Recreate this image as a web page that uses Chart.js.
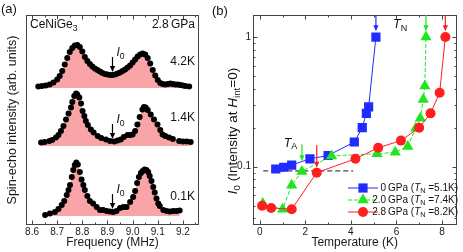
<!DOCTYPE html>
<html>
<head>
<meta charset="utf-8">
<script src="https://cdn.jsdelivr.net/npm/chart.js@4.4.1/dist/chart.umd.min.js"></script>
<style>
  html, body { margin: 0; padding: 0; background: #fff; }
  #wrap { position: relative; width: 463px; height: 252px; }
  #wrap canvas { position: absolute; left: 0; top: 0; }
</style>
</head>
<body>
<div id="wrap">
  <canvas id="chart-a" width="463" height="252"></canvas>
  <canvas id="chart-b" width="463" height="252"></canvas>
</div>
<script>
// ---- panel (a): spin-echo spectra of CeNiGe3 at 2.8 GPa ----
const freqTicks = [8.6, 8.7, 8.8, 8.9, 9.0, 9.1, 9.2];
const specLabels = ['4.2K', '1.4K', '0.1K'];

const freq4K2 = [8.625, 8.64, 8.655, 8.67, 8.685, 8.70, 8.71, 8.72, 8.73, 8.74, 8.75, 8.76, 8.77, 8.78, 8.79,
  8.80, 8.81, 8.82, 8.83, 8.84, 8.85, 8.86, 8.87, 8.88, 8.89, 8.90, 8.91, 8.92, 8.93, 8.94, 8.95, 8.96, 8.97,
  8.98, 8.99, 9.00, 9.01, 9.02, 9.03, 9.04, 9.05, 9.06, 9.07, 9.08, 9.09, 9.10, 9.11, 9.12, 9.13, 9.14, 9.15,
  9.16, 9.17, 9.18, 9.19, 9.20, 9.21, 9.225];
const int4K2 = [0.03, 0.04, 0.05, 0.07, 0.11, 0.17, 0.24, 0.34, 0.47, 0.60, 0.72, 0.80, 0.85, 0.86, 0.82,
  0.73, 0.62, 0.54, 0.48, 0.43, 0.39, 0.36, 0.33, 0.30, 0.28, 0.27, 0.26, 0.26, 0.27, 0.29, 0.31, 0.34, 0.37,
  0.41, 0.45, 0.51, 0.57, 0.63, 0.67, 0.69, 0.67, 0.60, 0.49, 0.36, 0.25, 0.16, 0.10, 0.08, 0.07, 0.08, 0.09,
  0.08, 0.07, 0.07, 0.06, 0.05, 0.04, 0.03];

const freq1K4 = [8.636, 8.650, 8.669, 8.680, 8.695, 8.705, 8.715, 8.725, 8.735, 8.745, 8.755, 8.760, 8.768,
  8.775, 8.780, 8.788, 8.795, 8.801, 8.808, 8.814, 8.822, 8.834, 8.845, 8.861, 8.875, 8.894, 8.910, 8.927,
  8.940, 8.953, 8.965, 8.980, 8.990, 9.000, 9.010, 9.019, 9.028, 9.039, 9.045, 9.052, 9.060, 9.072, 9.085,
  9.099, 9.110, 9.119, 9.130, 9.145, 9.160, 9.185, 9.200, 9.215, 9.231];
const int1K4 = [0.07, 0.08, 0.10, 0.12, 0.17, 0.22, 0.30, 0.40, 0.53, 0.65, 0.77, 0.88, 1.00,
  1.05, 1.03, 0.97, 0.85, 0.70, 0.60, 0.50, 0.42, 0.33, 0.27, 0.20, 0.16, 0.13, 0.10, 0.09,
  0.11, 0.13, 0.18, 0.22, 0.22, 0.23, 0.30, 0.43, 0.58, 0.73, 0.78, 0.77, 0.72, 0.63, 0.53,
  0.43, 0.32, 0.23, 0.20, 0.17, 0.14, 0.10, 0.09, 0.09, 0.08];

const freq0K1 = [8.652, 8.671, 8.691, 8.705, 8.718, 8.728, 8.738, 8.745, 8.751, 8.758, 8.764, 8.770, 8.776,
  8.782, 8.790, 8.797, 8.804, 8.810, 8.820, 8.830, 8.843, 8.857, 8.870, 8.883, 8.897, 8.910, 8.923, 8.936,
  8.950, 8.963, 8.976, 8.990, 9.002, 9.010, 9.018, 9.025, 9.033, 9.040, 9.048, 9.055, 9.062, 9.068, 9.075,
  9.082, 9.088, 9.095, 9.102, 9.108, 9.122, 9.135, 9.148, 9.161, 9.174, 9.187];
const int0K1 = [0.02, 0.05, 0.08, 0.14, 0.22, 0.30, 0.42, 0.52, 0.62, 0.78, 0.92, 1.02, 1.07,
  1.03, 0.88, 0.73, 0.62, 0.52, 0.40, 0.30, 0.25, 0.18, 0.12, 0.12, 0.10, 0.09, 0.08, 0.10,
  0.16, 0.18, 0.18, 0.28, 0.38, 0.50, 0.66, 0.78, 0.86, 0.90, 0.93, 0.92, 0.88, 0.80, 0.70,
  0.58, 0.47, 0.35, 0.25, 0.20, 0.12, 0.10, 0.09, 0.10, 0.10, 0.11];

// vertical offset of each trace in the stack
const specBase = [2.74, 1.58, 0.18];

// ---- panel (b): I0 vs temperature ----
const tempTicks = [0, 2, 4, 6, 8];
const i0Ticks = [0.1, 1];
const pressures = ['0', '2.0', '2.8'];
const tnValues = [5.1, 7.4, 8.2];

const temp00 = [0.7, 1.05, 1.4, 2.2, 3.0, 4.15, 4.5, 4.68, 4.78, 5.1];
const int00 = [0.096, 0.099, 0.103, 0.115, 0.122, 0.155, 0.2, 0.258, 0.289, 1.0];
const temp20 = [0.13, 1.0, 1.4, 1.85, 3.15, 5.15, 5.95, 6.5, 6.85, 7.05, 7.18, 7.25, 7.3];
const int20 = [0.052, 0.047, 0.072, 0.092, 0.121, 0.126, 0.129, 0.143, 0.198, 0.236, 0.33, 0.42, 1.0];
const temp28 = [0.1, 0.5, 1.4, 2.5, 4.2, 5.2, 6.2, 7.0, 7.5, 7.9, 8.15];
const int28 = [0.05, 0.048, 0.047, 0.09, 0.115, 0.14, 0.159, 0.2, 0.258, 0.372, 1.0];

const dashT = [0.15, 4.1];
const dashI = [0.093, 0.093];

const FONT = "'Liberation Sans', Arial, sans-serif";
const BLUE = '#1f2bff', GREEN = '#1ee61e', RED = '#ff1f1f', PINK = '#f9a4a6';

Chart.defaults.font.family = FONT;
Chart.defaults.color = '#1a1a1a';

function drawRich(ctx, parts, x, y, size, align) {
  ctx.save();
  ctx.fillStyle = '#111';
  ctx.textAlign = 'left';
  ctx.textBaseline = 'middle';
  const fontOf = p => (p.it ? 'italic ' : '') + (p.sub ? size * 0.72 : size) + 'px ' + FONT;
  let w = 0;
  parts.forEach(p => { ctx.font = fontOf(p); w += ctx.measureText(p.t).width; });
  let cx = align === 'right' ? x - w : align === 'center' ? x - w / 2 : x;
  parts.forEach(p => {
    ctx.font = fontOf(p);
    ctx.fillText(p.t, cx, p.sub ? y + size * 0.3 : y);
    cx += ctx.measureText(p.t).width;
  });
  ctx.restore();
}

function drawArrow(ctx, x, y0, y1, color) {
  const head = 6, half = 2.6;
  ctx.save();
  ctx.strokeStyle = color;
  ctx.fillStyle = color;
  ctx.lineWidth = 1.2;
  ctx.beginPath();
  ctx.moveTo(x, y0);
  ctx.lineTo(x, y1 - head + 1);
  ctx.stroke();
  ctx.beginPath();
  ctx.moveTo(x - half, y1 - head);
  ctx.lineTo(x + half, y1 - head);
  ctx.lineTo(x, y1);
  ctx.closePath();
  ctx.fill();
  ctx.restore();
}

function drawMarker(ctx, style, r, x, y, color) {
  ctx.save();
  ctx.fillStyle = color;
  ctx.beginPath();
  if (style === 'rect') {
    const s = r * Math.SQRT1_2;
    ctx.rect(x - s, y - s, 2 * s, 2 * s);
  } else if (style === 'triangle') {
    ctx.moveTo(x, y - r);
    ctx.lineTo(x + r * 0.866, y + r / 2);
    ctx.lineTo(x - r * 0.866, y + r / 2);
    ctx.closePath();
  } else {
    ctx.arc(x, y, r, 0, Math.PI * 2);
  }
  ctx.fill();
  ctx.restore();
}

// box round the plot with inward ticks on all four sides
const framePlugin = {
  id: 'frame',
  afterDatasetsDraw(chart, args, opts) {
    const { ctx, chartArea: a, scales: { x, y } } = chart;
    const L = Math.round(a.left) + 0.5, R = Math.round(a.right) - 0.5;
    const T = Math.round(a.top) + 0.5, B = Math.round(a.bottom) - 0.5;
    ctx.save();
    ctx.strokeStyle = '#444';
    ctx.lineWidth = 1;
    ctx.strokeRect(L, T, R - L, B - T);
    ctx.beginPath();
    const xt = (v, len) => {
      const p = Math.round(x.getPixelForValue(v)) + 0.5;
      ctx.moveTo(p, B); ctx.lineTo(p, B - len);
      ctx.moveTo(p, T); ctx.lineTo(p, T + len);
    };
    const yt = (v, len) => {
      const p = Math.round(y.getPixelForValue(v)) + 0.5;
      ctx.moveTo(L, p); ctx.lineTo(L + len, p);
      ctx.moveTo(R, p); ctx.lineTo(R - len, p);
    };
    (opts.xMajor || []).forEach(v => xt(v, 4));
    (opts.xMinor || []).forEach(v => xt(v, 2));
    (opts.yMajor || []).forEach(v => yt(v, 4));
    (opts.yMinor || []).forEach(v => yt(v, 2));
    ctx.stroke();
    ctx.restore();
  }
};

// ---------- chart (a) ----------
const spectra = [
  { f: freq4K2, v: int4K2 },
  { f: freq1K4, v: int1K4 },
  { f: freq0K1, v: int0K1 }
];
const labelRise = [0.52, 0.56, 0.38];
const dipTip = [0.32, 0.14, 0.14];
const dipFreq = 8.92;

const annotA = {
  id: 'annotA',
  afterDraw(chart) {
    const { ctx, scales: { x, y } } = chart;
    drawRich(ctx, [{ t: '(a)' }], 1, 9, 13, 'left');
    drawRich(ctx, [{ t: 'CeNiGe' }, { t: '3', sub: true }], 30, 25, 12, 'left');
    drawRich(ctx, [{ t: '2.8\u2009GPa' }], 195, 25, 12, 'right');
    specLabels.forEach((lab, i) => {
      drawRich(ctx, [{ t: lab }], 195, y.getPixelForValue(specBase[i] + labelRise[i]), 12, 'right');
      const px = x.getPixelForValue(dipFreq);
      const tip = y.getPixelForValue(specBase[i] + dipTip[i]);
      drawArrow(ctx, px, tip - 15, tip, '#000');
      drawRich(ctx, [{ t: 'I', it: true }, { t: '0', sub: true }], px + 4, tip - 19, 12, 'left');
    });
  }
};

const minorFreq = [];
for (let v = 8.65; v < 9.26; v += 0.1) minorFreq.push(v);

new Chart(document.getElementById('chart-a'), {
  type: 'line',
  data: {
    datasets: spectra.map((s, i) => ({
      data: s.f.map((f, k) => ({ x: f, y: specBase[i] + s.v[k] })),
      borderWidth: 0,
      borderColor: 'rgba(0,0,0,0)',
      backgroundColor: PINK,
      fill: { value: specBase[i] },
      pointRadius: 3,
      pointBackgroundColor: '#000',
      pointBorderWidth: 0
    }))
  },
  options: {
    responsive: false,
    animation: false,
    layout: { padding: { top: 15, right: 264, left: 0, bottom: 0 } },
    plugins: {
      legend: { display: false },
      tooltip: { enabled: false },
      frame: { xMajor: freqTicks, xMinor: minorFreq }
    },
    scales: {
      x: {
        type: 'linear', min: 8.576, max: 9.264,
        grid: { display: false, drawTicks: false },
        border: { display: false },
        afterBuildTicks: s => { s.ticks = freqTicks.map(v => ({ value: v })); },
        afterFit: s => { s.height = 27; },
        ticks: { padding: 1, font: { size: 10 }, autoSkip: false, maxRotation: 0, callback: v => v.toFixed(1) },
        title: { display: true, text: 'Frequency (MHz)', font: { size: 12 }, padding: { top: 0, bottom: 2 } }
      },
      y: {
        min: 0, max: 4.2,
        ticks: { display: false },
        grid: { display: false, drawTicks: false },
        border: { display: false },
        afterFit: s => { s.width = 26; },
        title: { display: true, text: 'Spin-echo intensity (arb. units)', font: { size: 12.5 }, padding: { top: 5, bottom: 0 } }
      }
    }
  },
  plugins: [framePlugin, annotA]
});

// ---------- chart (b) ----------
const series = [
  { t: temp00, v: int00, color: BLUE, style: 'rect', r: 6.5, dash: [] },
  { t: temp20, v: int20, color: GREEN, style: 'triangle', r: 6.5, dash: [4, 2] },
  { t: temp28, v: int28, color: RED, style: 'circle', r: 5, dash: [] }
];
const tnArrowT = [5.1, 7.3, 8.15];
const tnArrowTip = 1.11;

const annotB = {
  id: 'annotB',
  afterDraw(chart) {
    const { ctx, chartArea: a, scales: { x, y } } = chart;
    drawRich(ctx, [{ t: '(b)' }], 212, 11, 13, 'left');

    ctx.save();
    ctx.translate(233, 131);
    ctx.rotate(-Math.PI / 2);
    drawRich(ctx, [{ t: 'I', it: true }, { t: '0', sub: true }, { t: ' (Intensity at ' },
      { t: 'H', it: true }, { t: 'int', sub: true }, { t: '=0)' }], 0, 0, 13.5, 'center');
    ctx.restore();

    tnArrowT.forEach((t, i) => drawArrow(ctx, x.getPixelForValue(t), a.top, y.getPixelForValue(tnArrowTip), series[i].color));
    drawRich(ctx, [{ t: 'T', it: true }, { t: 'N', sub: true }], x.getPixelForValue(5.85), y.getPixelForValue(1.24), 12.5, 'left');

    drawArrow(ctx, x.getPixelForValue(1.85), y.getPixelForValue(0.149), y.getPixelForValue(0.11), GREEN);
    drawArrow(ctx, x.getPixelForValue(2.5), y.getPixelForValue(0.147), y.getPixelForValue(0.098), RED);
    drawRich(ctx, [{ t: 'T', it: true }, { t: 'A', sub: true }], x.getPixelForValue(1.05), y.getPixelForValue(0.152), 12.5, 'left');

    series.forEach((s, i) => {
      const ly = 188 + i * 12;
      ctx.save();
      ctx.strokeStyle = s.color;
      ctx.lineWidth = 1;
      ctx.setLineDash(s.dash);
      ctx.beginPath();
      ctx.moveTo(348, ly);
      ctx.lineTo(378, ly);
      ctx.stroke();
      ctx.restore();
      drawMarker(ctx, s.style, s.r, 363, ly, s.color);
      drawRich(ctx, [{ t: pressures[i] + '\u2009GPa (' }, { t: 'T', it: true }, { t: 'N', sub: true },
        { t: ' =' + tnValues[i].toFixed(1) + 'K)' }], 458, ly, 10, 'right');
    });
  }
};

new Chart(document.getElementById('chart-b'), {
  type: 'line',
  data: {
    datasets: series.map((s, i) => ({
      data: s.t.map((t, k) => ({ x: t, y: s.v[k] })),
      borderColor: s.color,
      borderWidth: 1,
      borderDash: s.dash,
      pointStyle: s.style,
      pointRadius: s.r,
      pointBackgroundColor: s.color,
      pointBorderWidth: 0,
      order: 3 - i
    })).concat([{
      data: dashT.map((t, k) => ({ x: t, y: dashI[k] })),
      borderColor: '#444',
      borderWidth: 1.3,
      borderDash: [5, 3],
      pointRadius: 0,
      order: 5
    }])
  },
  options: {
    responsive: false,
    animation: false,
    layout: { padding: { top: 15, right: 1, left: 205, bottom: 0 } },
    plugins: {
      legend: { display: false },
      tooltip: { enabled: false },
      frame: {
        xMajor: tempTicks, xMinor: [1, 3, 5, 7],
        yMajor: i0Ticks,
        yMinor: [0.04, 0.05, 0.06, 0.07, 0.08, 0.09, 0.2, 0.3, 0.4, 0.5, 0.6, 0.7, 0.8, 0.9]
      }
    },
    scales: {
      x: {
        type: 'linear', min: -0.3, max: 8.64,
        grid: { display: false, drawTicks: false },
        border: { display: false },
        afterBuildTicks: s => { s.ticks = tempTicks.map(v => ({ value: v })); },
        afterFit: s => { s.height = 27; },
        ticks: { padding: 1, font: { size: 10 }, autoSkip: false, maxRotation: 0 },
        title: { display: true, text: 'Temperature (K)', font: { size: 12 }, padding: { top: 0, bottom: 2 } }
      },
      y: {
        type: 'logarithmic', min: 0.0355, max: 1.48,
        grid: { display: false, drawTicks: false },
        border: { display: false },
        afterBuildTicks: s => { s.ticks = i0Ticks.map(v => ({ value: v })); },
        afterFit: s => { s.width = 48; },
        ticks: { padding: 2, font: { size: 10 }, callback: v => String(v) }
      }
    }
  },
  plugins: [framePlugin, annotB]
});
</script>
</body>
</html>
